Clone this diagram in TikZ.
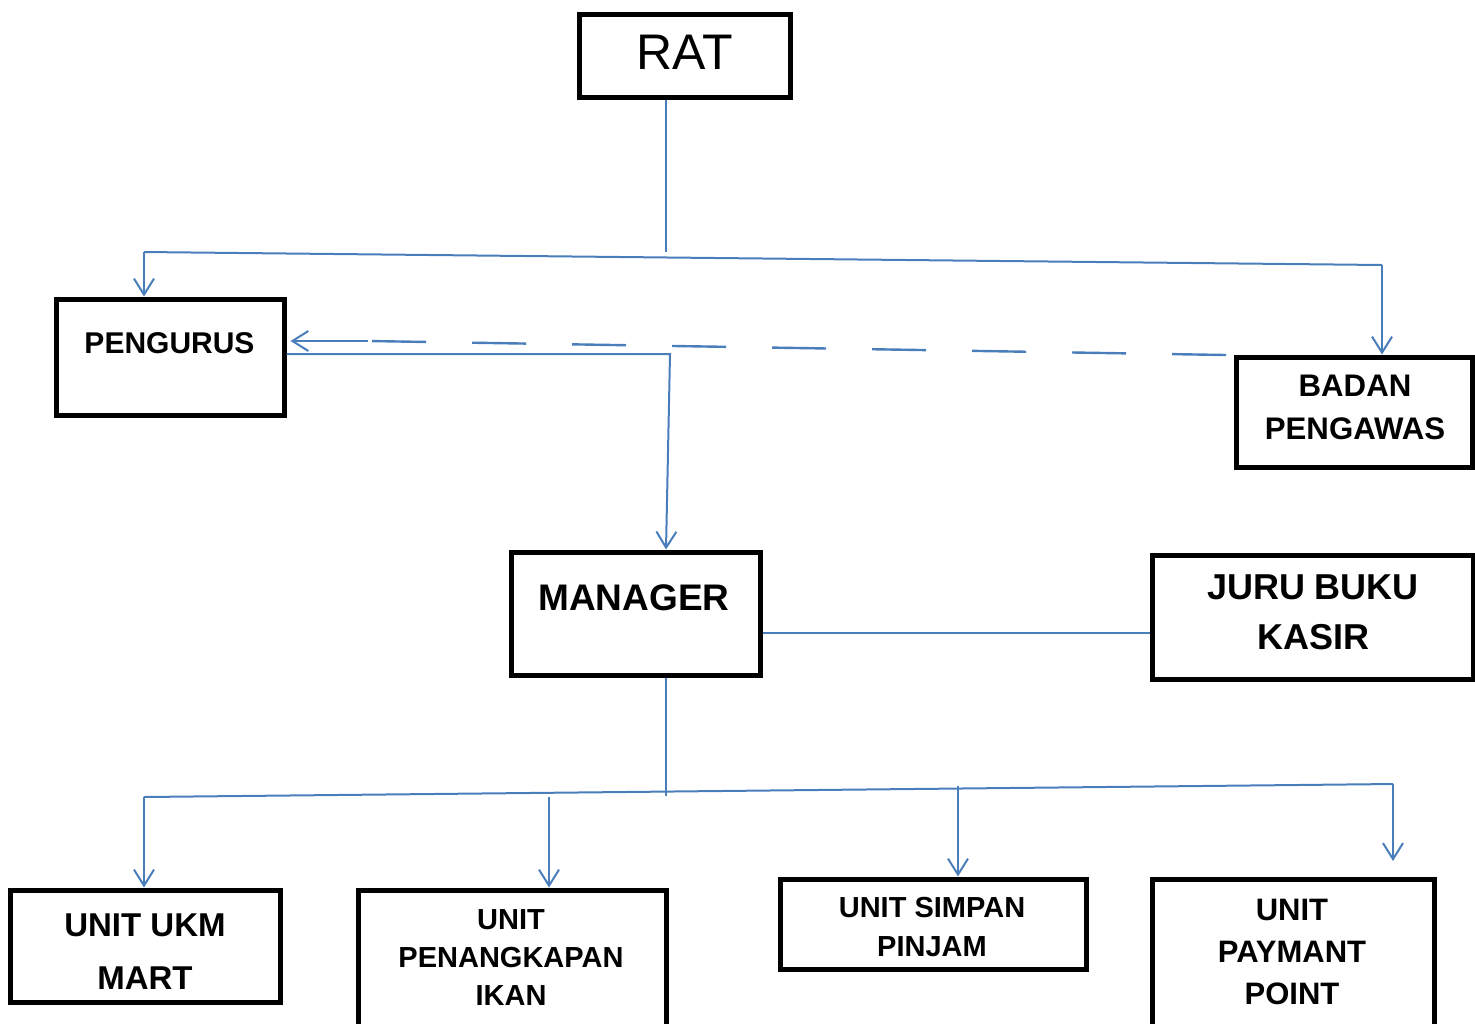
\documentclass[tikz,border=0pt]{standalone}
\usepackage{fontspec}
\setmainfont{Liberation Sans}
\usetikzlibrary{arrows.meta,fit,calc}
\definecolor{lineblue}{HTML}{4A7EBB}
\begin{document}
\begin{tikzpicture}[x=0.5pt,y=-0.5pt,
  box/.style={draw=black,line width=2.5pt,inner sep=0pt,fill=none},
  txt/.style={inner sep=0pt,align=center,text=black},
  conn/.style={draw=lineblue,line width=1pt},
  arr/.style={conn,-{Straight Barb[length=8pt,width=10pt,line width=1pt]}},
  dashline/.style={conn,line width=1.2pt,dash pattern=on 27pt off 23pt}]
\useasboundingbox (0,0) rectangle (1475,1023);
% boxes
\node[box,fit={(579,14)(790,97)}] (rat) {};
\node[box,fit={(56,299)(284,415)}] (pengurus) {};
\node[box,fit={(1236,357)(1472,467)}] (badan) {};
\node[box,fit={(511,552)(760,675)}] (manager) {};
\node[box,fit={(1152,555)(1473,679)}] (juru) {};
\node[box,fit={(10,890)(280,1002)}] (ukm) {};
\node[box,fit={(358,890)(666,1040)}] (ikan) {};
\node[box,fit={(780,879)(1086,969)}] (simpan) {};
\node[box,fit={(1152,879)(1434,1040)}] (paymant) {};
% texts
\node[txt,font=\fontsize{25}{30}\selectfont] (ratT) at (684.5,52) {RAT};
\node[txt,font=\fontsize{15}{18}\selectfont\bfseries] (pengurusT) at (169.5,343) {PENGURUS};
\node[txt,font=\fontsize{15.6}{21.5}\selectfont\bfseries] (badanT) at (1355,407.5) {BADAN\\PENGAWAS};
\node[txt,font=\fontsize{18.5}{22}\selectfont\bfseries] (managerT) at (634,598) {MANAGER};
\node[txt,font=\fontsize{18}{25}\selectfont\bfseries] (juruT) at (1313,612) {JURU BUKU\\KASIR};
\node[txt,font=\fontsize{16.5}{26.5}\selectfont\bfseries] (ukmT) at (145,952) {UNIT UKM\\MART};
\node[txt,font=\fontsize{14.5}{19}\selectfont\bfseries] (ikanT) at (511,957.5) {UNIT\\PENANGKAPAN\\IKAN};
\node[txt,font=\fontsize{14.5}{19.5}\selectfont\bfseries] (simpanT) at (932,926.5) {UNIT SIMPAN\\PINJAM};
\node[txt,font=\fontsize{15.5}{21}\selectfont\bfseries] (paymantT) at (1292,951.5) {UNIT\\PAYMANT\\POINT};
% junction coordinates
\coordinate (j1) at (666,252);
\coordinate (bL) at (144,252);
\coordinate (bR) at (1382,265);
\coordinate (d1) at (1226,355);
\coordinate (d2) at (368,341);
\coordinate (k1) at (670,354);
\coordinate (k2) at (666,0);
\coordinate (m1) at (0,633);
\coordinate (j2) at (666,796);
\coordinate (cL) at (144,797);
\coordinate (cR) at (1393,784);
\coordinate (c2) at (549,797);
\coordinate (c3) at (958,786);
\coordinate (c4) at (1393,861);
% connectors
\draw[conn] (rat.south -| j1) -- (j1);
\draw[conn] (bL) -- (bR);
\draw[arr] (bL) -- (bL |- pengurus.north);
\draw[arr] (bR) -- (bR |- badan.north);
\draw[dashline] (d1) -- (d2);
\draw[arr,line width=1.4pt] (d2) -- ($(pengurus.east)+(4,-16)$);
\draw[arr] (pengurus.east |- k1) -- (k1) -- (k2 |- manager.north);
\draw[conn] (manager.east |- m1) -- (juru.west |- m1);
\draw[conn] (manager.south -| j2) -- (j2);
\draw[conn] (cL) -- (cR);
\draw[arr] (cL) -- (cL |- ukm.north);
\draw[arr] (c2) -- (c2 |- ikan.north);
\draw[arr] (c3) -- (c3 |- simpan.north);
\draw[arr] (cR) -- (c4);
\end{tikzpicture}
\end{document}
